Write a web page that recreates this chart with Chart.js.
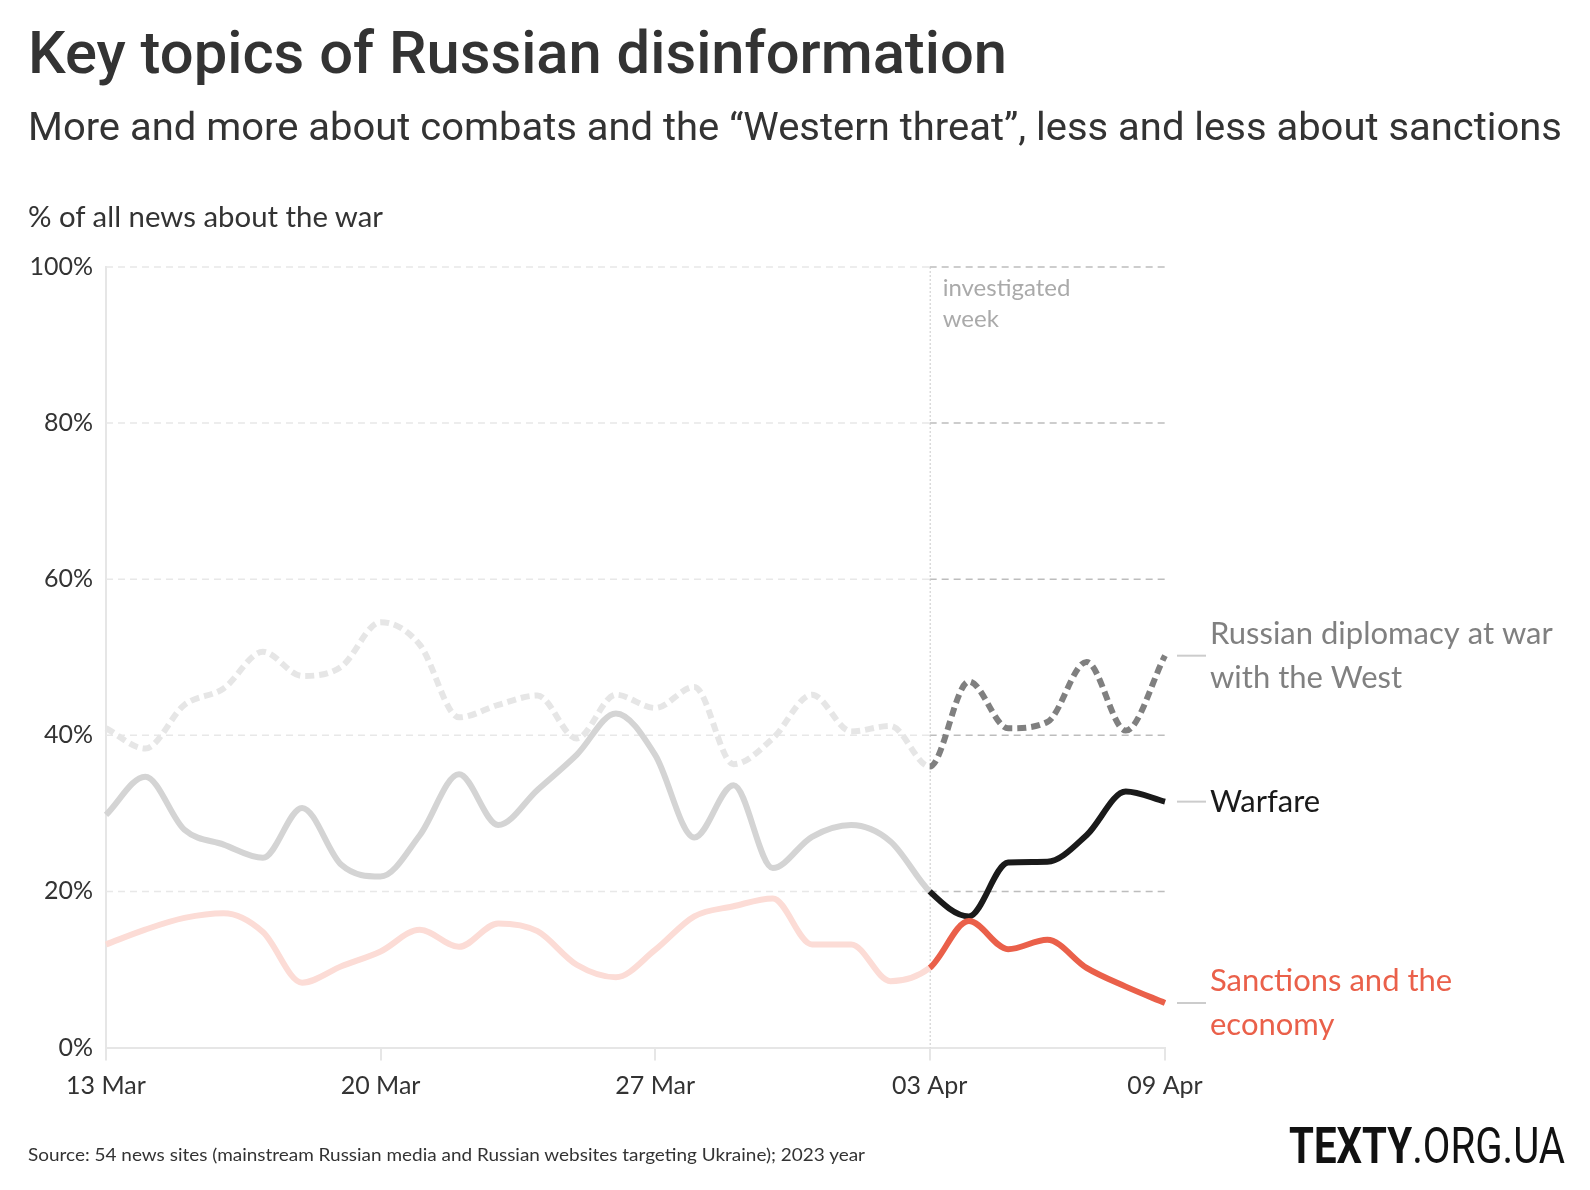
<!DOCTYPE html>
<html>
<head>
<meta charset="utf-8">
<script src="https://cdn.jsdelivr.net/npm/chart.js@4.4.0/dist/chart.umd.min.js"></script>
<style>
  html, body { margin: 0; padding: 0; background: #fff; }
  body { width: 1590px; height: 1190px; position: relative; overflow: hidden; color: #333; }
  #chart { position: absolute; left: 0; top: 0; }
  .txt { position: absolute; white-space: nowrap; transform-origin: 0 0; line-height: 1; }
  #title { left: 28px; top: 18px; font: 500 59px Roboto, sans-serif; color: #333; }
  #subtitle { left: 28px; top: 105px; font: 400 38px Roboto, sans-serif; color: #333; }
  #axisLabel { left: 28px; top: 199px; font: 400 28px Lato, sans-serif; color: #333; }
  #source { left: 28px; top: 1143px; font: 400 18px Lato, sans-serif; color: #333; }
  #logo { left: 1289px; top: 1117px; font: 400 50px Roboto, sans-serif; color: #111; }
  #logo b { font-weight: 700; }
</style>
</head>
<body>
<canvas id="chart" width="1590" height="1190"></canvas>
<div class="txt" id="title" data-w="979">Key topics of Russian disinformation</div>
<div class="txt" id="subtitle" data-w="1534">More and more about combats and the “Western threat”, less and less about sanctions</div>
<div class="txt" id="axisLabel" data-w="355">% of all news about the war</div>
<div class="txt" id="source" data-w="837">Source: 54 news sites (mainstream Russian media and Russian websites targeting Ukraine); 2023 year</div>
<div class="txt" id="logo" data-w="276"><b>TEXTY</b>.ORG.UA</div>
<script>
// daily points, 13 Mar – 09 Apr 2023
const days = ['13 Mar', '14 Mar', '15 Mar', '16 Mar', '17 Mar', '18 Mar', '19 Mar',
  '20 Mar', '21 Mar', '22 Mar', '23 Mar', '24 Mar', '25 Mar', '26 Mar',
  '27 Mar', '28 Mar', '29 Mar', '30 Mar', '31 Mar', '01 Apr', '02 Apr',
  '03 Apr', '04 Apr', '05 Apr', '06 Apr', '07 Apr', '08 Apr', '09 Apr'];
const tickDays = ['13 Mar', '20 Mar', '27 Mar', '03 Apr', '09 Apr'];
const weekStart = '03 Apr';
const yTicks = [0, 20, 40, 60, 80, 100];

const diplomacy = [40.9, 38.3, 43.9, 46.0, 50.7, 47.6, 48.8, 54.5, 51.6, 42.3, 43.9, 45.1, 39.6, 45.2,
  43.5, 46.2, 36.3, 39.6, 45.2, 40.5, 41.2, 36.0, 46.9, 40.9, 41.7, 49.4, 40.6, 50.2];
const warfare = [29.8, 34.7, 27.9, 26.0, 24.3, 30.7, 23.4, 21.9, 27.2, 35.0, 28.5, 33.0, 37.5, 42.8,
  37.5, 26.9, 33.6, 23.0, 27.0, 28.5, 26.4, 20.0, 16.8, 23.7, 23.8, 27.2, 32.8, 31.5];
const sanctions = [13.2, 15.1, 16.6, 17.2, 14.8, 8.3, 10.4, 12.3, 15.1, 12.9, 15.9, 14.9, 10.6, 9.0,
  12.5, 16.8, 18.1, 19.1, 13.2, 13.2, 8.5, 10.2, 16.2, 12.6, 13.8, 10.2, 7.8, 5.7];

const seriesNames = [
  ['Russian diplomacy at war', 'with the West'],
  ['Warfare'],
  ['Sanctions and the', 'economy']
];
const weekNote = ['investigated', 'week'];

const split = days.indexOf(weekStart);

function series(data, light, dark, label, dashed) {
  return {
    data: data,
    borderWidth: 6,
    borderColor: light,
    borderDash: dashed ? [9, 5] : [],
    pointRadius: 0,
    cubicInterpolationMode: 'monotone',
    fill: false,
    labelLines: label,
    labelColor: dark,
    segment: {
      borderColor: c => c.p0DataIndex >= split ? dark : light
    }
  };
}

const weekPlugin = {
  id: 'week',
  beforeDatasetsDraw(chart) {
    const { ctx, chartArea: a, scales: { x, y } } = chart;
    const xs = x.getPixelForValue(split);
    ctx.save();
    ctx.lineWidth = 1.5;
    ctx.setLineDash([7, 5]);
    yTicks.forEach(v => {
      if (v === 0) return;
      const py = y.getPixelForValue(v);
      ctx.strokeStyle = '#e8e8e8';
      ctx.beginPath(); ctx.moveTo(a.left, py); ctx.lineTo(xs, py); ctx.stroke();
      ctx.strokeStyle = '#bdbdbd';
      ctx.beginPath(); ctx.moveTo(xs, py); ctx.lineTo(a.right, py); ctx.stroke();
    });
    ctx.setLineDash([2, 2]);
    ctx.lineWidth = 1;
    ctx.strokeStyle = '#c8c8c8';
    ctx.beginPath(); ctx.moveTo(xs + 0.5, a.top); ctx.lineTo(xs + 0.5, a.bottom); ctx.stroke();
    ctx.setLineDash([]);
    ctx.fillStyle = '#aaaaaa';
    ctx.font = '24px Lato, sans-serif';
    ctx.textBaseline = 'alphabetic';
    weekNote.forEach((t, i) => ctx.fillText(t, xs + 13, a.top + 29 + i * 31));
    ctx.restore();
  },
  afterDatasetsDraw(chart) {
    const { ctx, chartArea: a } = chart;
    ctx.save();
    chart.data.datasets.forEach((ds, i) => {
      const pts = chart.getDatasetMeta(i).data;
      const py = pts[pts.length - 1].y;
      ctx.strokeStyle = '#cccccc';
      ctx.lineWidth = 2;
      ctx.beginPath(); ctx.moveTo(a.right + 12, py); ctx.lineTo(a.right + 41, py); ctx.stroke();
      ctx.fillStyle = ds.labelColor;
      ctx.font = '31px Lato, sans-serif';
      ctx.textBaseline = 'middle';
      const n = ds.labelLines.length;
      ds.labelLines.forEach((t, j) => {
        ctx.fillText(t, a.right + 45, py + (j - (n - 1) / 2) * 44);
      });
    });
    ctx.restore();
  }
};

new Chart(document.getElementById('chart'), {
  type: 'line',
  data: {
    labels: days,
    datasets: [
      series(sanctions, '#fcdcd6', '#ea604a', seriesNames[2], false),
      series(warfare, '#d4d4d4', '#1a1a1a', seriesNames[1], false),
      series(diplomacy, '#e6e6e6', '#808080', seriesNames[0], true)
    ]
  },
  options: {
    responsive: false,
    animation: false,
    layout: { padding: { top: 267, right: 425, left: 0, bottom: 0 } },
    plugins: { legend: { display: false }, tooltip: { enabled: false } },
    scales: {
      x: {
        type: 'category',
        offset: false,
        afterFit: s => { s.height = 142.5; },
        grid: {
          drawOnChartArea: false,
          drawTicks: true,
          tickLength: 13,
          lineWidth: 2,
          color: c => tickDays.includes(days[c.index]) ? '#e6e6e6' : 'transparent'
        },
        border: { display: true, color: '#e6e6e6', width: 2 },
        ticks: {
          autoSkip: false,
          maxRotation: 0,
          padding: 10,
          color: '#333',
          font: { family: 'Lato', size: 25 },
          callback: (v, i) => tickDays.includes(days[i]) ? days[i] : ''
        }
      },
      y: {
        min: 0,
        max: 100,
        afterFit: s => { s.width = 106; },
        afterBuildTicks: s => { s.ticks = yTicks.map(v => ({ value: v })); },
        grid: { display: false, drawTicks: false },
        border: { display: true, color: '#e6e6e6', width: 2 },
        ticks: {
          padding: 13,
          color: '#333',
          font: { family: 'Lato', size: 25 },
          callback: v => v + '%'
        }
      }
    }
  },
  plugins: [weekPlugin]
});

document.querySelectorAll('.txt[data-w]').forEach(el => {
  const w = el.getBoundingClientRect().width;
  el.style.transform = 'scaleX(' + (el.dataset.w / w) + ')';
});
</script>
</body>
</html>
